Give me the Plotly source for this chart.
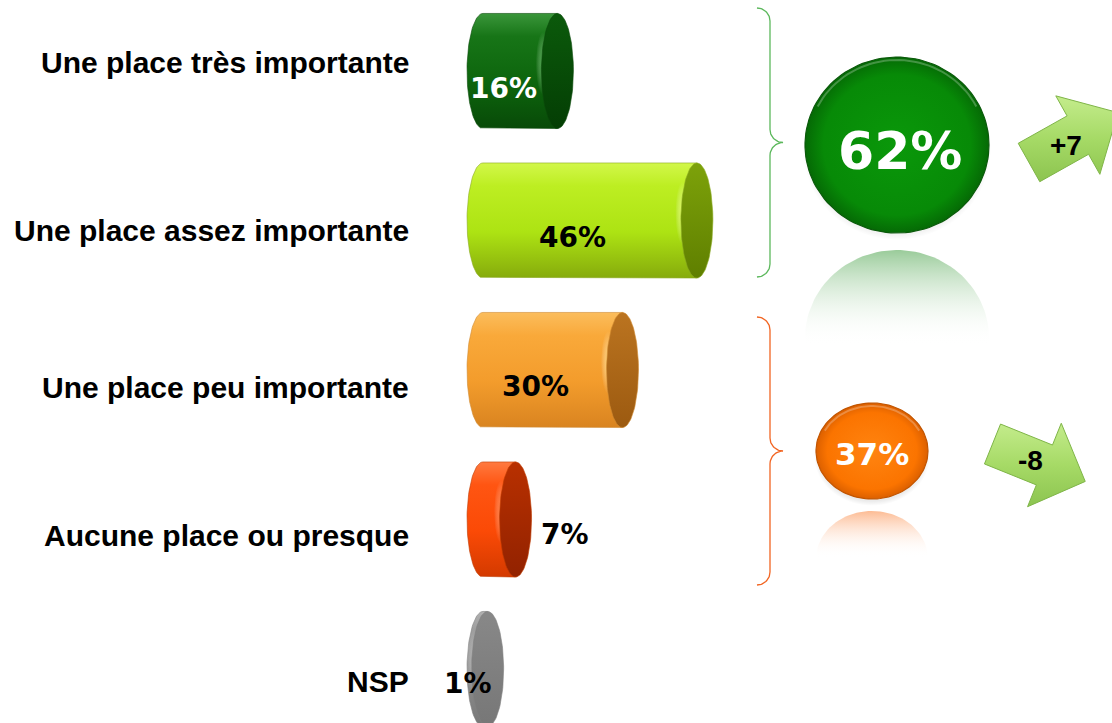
import numpy as np
import plotly.graph_objects as go

# ---------------- data ----------------
categories = ["Une place très importante", "Une place assez importante",
              "Une place peu importante", "Aucune place ou presque", "NSP"]
values = [16, 46, 30, 7, 1]
value_labels = ["16%", "46%", "30%", "7%", "1%"]
group_totals = [62, 37]
group_total_labels = ["62%", "37%"]
group_deltas = ["+7", "-8"]

# ---------------- styles / layout constants ----------------
W, H = 1112, 723
K = 4.65          # px per percentage point
X0 = 483          # px position of value 0
P = 149.5         # px between rows
Y0 = 71           # px centre of first row
BAR_H = 0.385     # half bar height (row units)
CAP_A = 16 / K    # half width of end ellipse (value units)

body_scales = [
    [[0, "#3a963a"], [0.2, "#177517"], [0.6, "#0d650d"], [1, "#084a08"]],
    [[0, "#d2f74a"], [0.2, "#bdee22"], [0.6, "#ade313"], [1, "#86ab0c"]],
    [[0, "#fbbd5c"], [0.2, "#f9a93a"], [0.6, "#f39c2c"], [1, "#d98420"]],
    [[0, "#ff7a40"], [0.2, "#ff5512"], [0.6, "#fb4a06"], [1, "#d33a00"]],
    [[0, "#b0b0b0"], [0.2, "#9a9a9a"], [0.6, "#8c8c8c"], [1, "#777777"]],
]
cap_scales = [
    [[0, "#0b5a0b"], [1, "#043e04"]],
    [[0, "#7da20a"], [1, "#5f7f00"]],
    [[0, "#bb7420"], [1, "#9c5a10"]],
    [[0, "#b83000"], [1, "#922200"]],
    [[0, "#888888"], [1, "#777777"]],
]
edge_colors = ["#0a4a0a", "#8aaa20", "#d08a30", "#c03a00", "#808080"]
hi_colors = ["rgba(120,220,120,0.55)", "rgba(240,255,120,0.7)", "rgba(255,230,140,0.7)",
             "rgba(255,150,90,0.6)", "rgba(200,200,200,0.5)"]
label_colors = ["white", "black", "black", "black", "black"]
label_pos = [(503, 88), (572, 237), (535, 386), (565, 534), (468, 683)]
cat_label_y = [62, 230, 387, 535, 681]
CAT_RIGHT = 411

circle_center = [(897, 145), (872, 451)]
circle_r = [(92, 88), (56, 48)]
circle_scales = [
    [[0, "#0a980a"], [0.8, "#078a07"], [1, "#056a05"]],
    [[0, "#ff8410"], [0.8, "#fb7400"], [1, "#dc6000"]],
]
circle_edge = ["#0b5a0b", "#c25500"]
refl_colors = ["rgba(30,140,30,0.45)", "rgba(250,120,40,0.5)"]
refl_gap = [17, 12]
refl_cut = [345, 557]
total_label_pos = [(900, 151), (872, 454)]
total_font = [52, 31]

brace_x = 757
brace_ranges = [(8, 277), (317, 585)]
brace_colors = ["#5cb85c", "#f26522"]

arrows = [  # tail centre, direction vector, shaft len, half shaft, half head, head len
    dict(t=(1029, 162.5), d=(49, -27.5), s=56, w=22, hw=45, hl=46),
    dict(t=(992.5, 444), d=(52, 21), s=56, w=21.5, hw=45, hl=44),
]
delta_pos = [(1066, 145), (1030, 460)]

fig = go.Figure()


def ell(cx, cy, rx, ry, t0=0.0, t1=2 * np.pi, n=120):
    t = np.linspace(t0, t1, n)
    return cx + rx * np.cos(t), cy + ry * np.sin(t)


# ---------------- cylinders (main axes: value x row) ----------------
for i, v in enumerate(values):
    top, bot = i - BAR_H, i + BAR_H
    lx, ly = ell(0, i, CAP_A, BAR_H, np.pi / 2, 3 * np.pi / 2, 60)
    bx = np.concatenate([[0, v, v, 0], lx])
    by = np.concatenate([[top, top, bot, bot], ly])
    fig.add_trace(go.Scatter(
        x=bx, y=by, fill="toself", mode="lines",
        line=dict(width=0.6, color=edge_colors[i]),
        fillgradient=dict(type="vertical", colorscale=body_scales[i], start=top, stop=bot),
        hoverinfo="skip", showlegend=False))
    # specular highlight near the cap
    hx, hy = ell(v - CAP_A * 0.9, i - 0.05, CAP_A * 0.45, BAR_H * 0.55)
    fig.add_trace(go.Scatter(
        x=hx, y=hy, fill="toself", mode="lines", line=dict(width=0),
        fillgradient=dict(type="radial", colorscale=[[0, hi_colors[i]], [1, "rgba(255,255,255,0)"]]),
        hoverinfo="skip", showlegend=False))
    cx, cy = ell(v, i, CAP_A, BAR_H)
    fig.add_trace(go.Scatter(
        x=cx, y=cy, fill="toself", mode="lines",
        line=dict(width=0.6, color=edge_colors[i]),
        fillgradient=dict(type="vertical", colorscale=cap_scales[i], start=top, stop=bot),
        hoverinfo="skip", showlegend=False))

# ---------------- overlay decorations (pixel axes) ----------------
OV = dict(xaxis="x2", yaxis="y2", hoverinfo="skip", showlegend=False)

# braces
for (y0, y1), col in zip(brace_ranges, brace_colors):
    r = 13
    ym = (y0 + y1) / 2
    xs, ys = [], []
    a1x, a1y = ell(brace_x, y0 + r, r, r, -np.pi / 2, 0, 20)
    xs += list(a1x); ys += list(a1y)
    a2x, a2y = ell(brace_x + 2 * r, ym - r, r, r, np.pi, np.pi / 2, 20)
    xs += list(a2x); ys += list(a2y)
    a3x, a3y = ell(brace_x + 2 * r, ym + r, r, r, -np.pi / 2, -np.pi, 20)
    xs += list(a3x); ys += list(a3y)
    a4x, a4y = ell(brace_x, y1 - r, r, r, 0, np.pi / 2, 20)
    xs += list(a4x); ys += list(a4y)
    fig.add_trace(go.Scatter(x=xs, y=ys, mode="lines", line=dict(color=col, width=1.3), **OV))

# totals circles with reflections
for k, tot in enumerate(group_totals):
    (cx0, cy0), (rx, ry) = circle_center[k], circle_r[k]
    # soft shadow
    sx, sy = ell(cx0, cy0 + 5, rx + 2, ry + 2)
    fig.add_trace(go.Scatter(x=sx, y=sy, fill="toself", mode="lines", line=dict(width=0),
                             fillgradient=dict(type="radial", colorscale=[[0, "rgba(0,0,0,0.12)"], [0.9, "rgba(0,0,0,0.08)"], [1, "rgba(0,0,0,0)"]]),
                             **OV))
    # reflection
    rtop = cy0 + ry + refl_gap[k]
    fx, fy = ell(cx0, rtop + ry, rx, ry)
    fy = np.minimum(fy, refl_cut[k])
    fig.add_trace(go.Scatter(x=fx, y=fy, fill="toself", mode="lines", line=dict(width=0),
                             fillgradient=dict(type="vertical",
                                               colorscale=[[0, refl_colors[k]], [1, "rgba(255,255,255,0)"]],
                                               start=rtop, stop=refl_cut[k]),
                             **OV))
    ex, ey = ell(cx0, cy0, rx, ry)
    fig.add_trace(go.Scatter(x=ex, y=ey, fill="toself", mode="lines",
                             line=dict(width=1.2, color=circle_edge[k]),
                             fillgradient=dict(type="radial", colorscale=circle_scales[k]),
                             **OV))
    # top bevel highlight
    hx, hy = ell(cx0, cy0, rx - 3, ry - 3, np.pi * 1.15, np.pi * 1.85, 40)
    fig.add_trace(go.Scatter(x=hx, y=hy, mode="lines",
                             line=dict(width=2, color="rgba(255,255,255,0.25)"), **OV))

# arrows
for a in arrows:
    tx, ty = a["t"]
    d = np.array(a["d"], float); d /= np.linalg.norm(d)
    n = np.array([-d[1], d[0]])
    s, w, hw, hl = a["s"], a["w"], a["hw"], a["hl"]
    loc = [(0, -w), (s, -w), (s, -hw), (s + hl, 0), (s, hw), (s, w), (0, w), (0, -w)]
    px = [tx + u * d[0] + v * n[0] for u, v in loc]
    py = [ty + u * d[1] + v * n[1] for u, v in loc]
    fig.add_trace(go.Scatter(x=px, y=py, fill="toself", mode="lines",
                             line=dict(width=1, color="#7fb548"),
                             fillgradient=dict(type="vertical",
                                               colorscale=[[0, "#c4ec8c"], [0.5, "#a6da66"], [1, "#8cc450"]],
                                               start=min(py), stop=max(py)),
                             **OV))

# ---------------- text ----------------
ann = []
for i, c in enumerate(categories):
    ann.append(dict(x=CAT_RIGHT, y=cat_label_y[i], xref="x2", yref="y2", text=f"<b>{c}</b>",
                    showarrow=False, xanchor="right", yanchor="middle",
                    font=dict(family="Liberation Sans, Arial", size=30, color="black")))
for i, lab in enumerate(value_labels):
    ann.append(dict(x=label_pos[i][0], y=label_pos[i][1], xref="x2", yref="y2", text=f"<b>{lab}</b>",
                    showarrow=False, xanchor="center", yanchor="middle",
                    font=dict(family="DejaVu Sans", size=28, color=label_colors[i])))
for k, lab in enumerate(group_total_labels):
    ann.append(dict(x=total_label_pos[k][0], y=total_label_pos[k][1], xref="x2", yref="y2",
                    text=f"<b>{lab}</b>", showarrow=False, xanchor="center", yanchor="middle",
                    font=dict(family="DejaVu Sans", size=total_font[k], color="white")))
for k, lab in enumerate(group_deltas):
    ann.append(dict(x=delta_pos[k][0], y=delta_pos[k][1], xref="x2", yref="y2",
                    text=f"<b>{lab}</b>", showarrow=False, xanchor="center", yanchor="middle",
                    font=dict(family="Liberation Sans, Arial", size=28, color="black")))

fig.update_layout(
    width=W, height=H, autosize=False,
    margin=dict(l=0, r=0, t=0, b=0, pad=0),
    paper_bgcolor="white", plot_bgcolor="white",
    xaxis=dict(range=[-X0 / K, (W - X0) / K], visible=False, fixedrange=True),
    yaxis=dict(range=[(H - Y0) / P, -Y0 / P], visible=False, fixedrange=True),
    xaxis2=dict(range=[0, W], overlaying="x", visible=False, fixedrange=True),
    yaxis2=dict(range=[H, 0], overlaying="y", visible=False, fixedrange=True),
    annotations=ann,
    showlegend=False,
)

fig.write_html("out.html", config={"displayModeBar": False},
               post_script="document.body.style.margin='0';document.body.style.overflow='hidden';")
